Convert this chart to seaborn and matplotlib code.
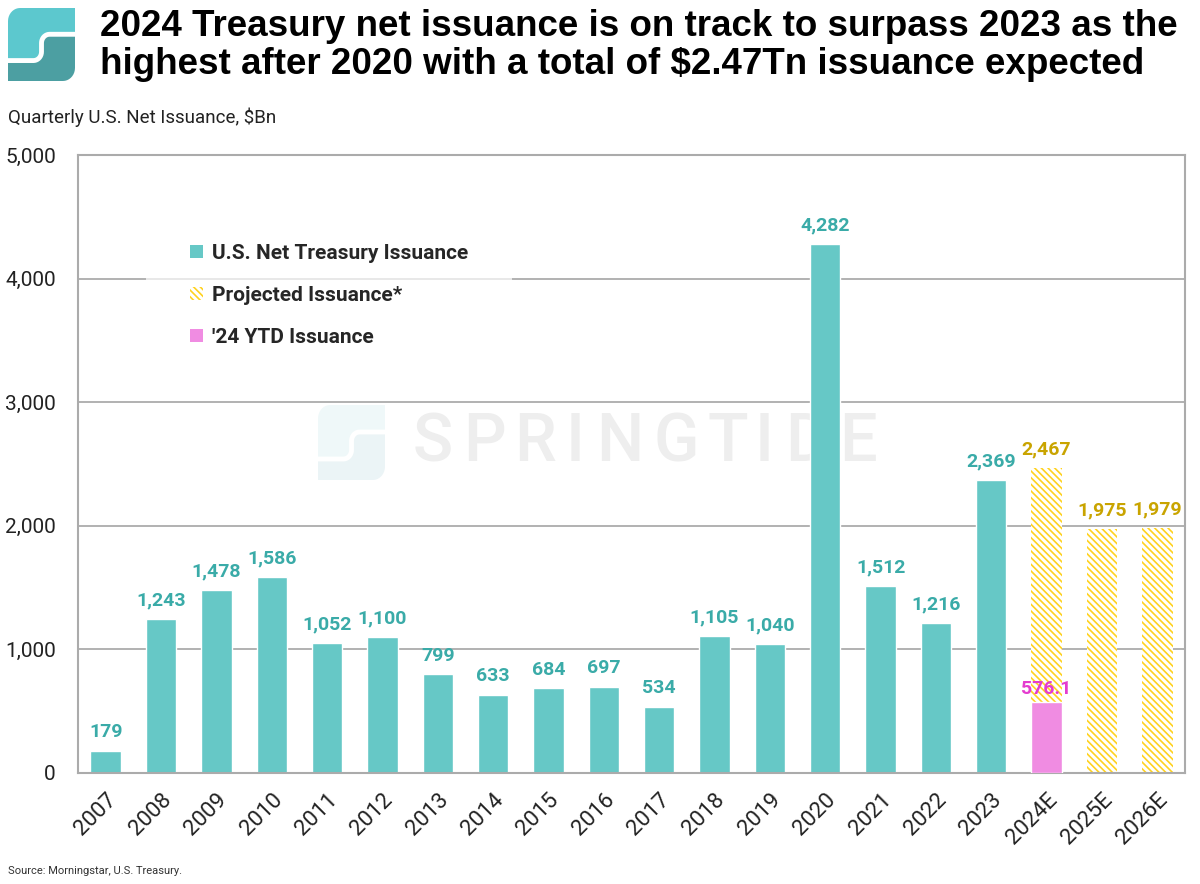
import numpy as np
import pandas as pd
import matplotlib
matplotlib.use("Agg")
import matplotlib.pyplot as plt
import seaborn as sns
from matplotlib import font_manager
from matplotlib.patches import Patch, Polygon
from matplotlib.lines import Line2D

# Дані
actual_years = ['2007', '2008', '2009', '2010', '2011', '2012', '2013', '2014', '2015',
                '2016', '2017', '2018', '2019', '2020', '2021', '2022', '2023']
actual_values = [179, 1243, 1478, 1586, 1052, 1100, 799, 633, 684,
                 697, 534, 1105, 1040, 4282, 1512, 1216, 2369]
projected_years = ['2024E', '2025E', '2026E']
projected_values = [2467, 1975, 1979]
ytd_years = ['2024E']
ytd_values = [576.1]
all_years = actual_years + projected_years

TEAL = '#66C8C6'
TEAL_TXT = '#3AABA8'
GOLD = '#FFD21F'
GOLD_TXT = '#C9A400'
PINK = '#F08CE2'
PINK_TXT = '#E43CCF'

sns.set_style('white')
names = {f.name for f in font_manager.fontManager.ttflist}
NARROW = 'Liberation Sans Narrow' if 'Liberation Sans Narrow' in names else 'Roboto'
plt.rcParams['font.family'] = [NARROW, 'DejaVu Sans']
plt.rcParams['hatch.linewidth'] = 1.2

fig = plt.figure(figsize=(12, 8.84), dpi=100)
ax = fig.add_axes([78 / 1200, 1 - 773 / 884, 1107 / 1200, 618 / 884])


def logo_patches(x0, y0, w, h, c1, c2, transform, gap_color='white', lw=3.5):
    # логотип: заокруглений квадрат, розділений S-подібною лінією
    r = 0.18

    def arc(cx, cy, rad, a0, a1, n=10):
        t = np.radians(np.linspace(a0, a1, n))
        return list(zip(cx + rad * np.cos(t), cy + rad * np.sin(t)))

    s_curve = ([(1, 0.64), (0.62, 0.64)] + arc(0.62, 0.52, 0.12, 90, 180)
               + [(0.50, 0.40)] + arc(0.38, 0.40, 0.12, 0, -90) + [(0, 0.28)])
    top = [(1, 1)] + arc(r, 1 - r, r, 90, 180) + [(0, 0.28)]
    light = top + s_curve[::-1]
    dark = s_curve + [(0, 0), (1 - r, 0)] + arc(1 - r, r, r, -90, 0)
    conv = lambda pts: [(x0 + x * w, y0 + y * h) for x, y in pts]
    p1 = Polygon(conv(light), closed=True, fc=c1, ec='none', transform=transform)
    p2 = Polygon(conv(dark), closed=True, fc=c2, ec='none', transform=transform)
    sc = np.array(conv(s_curve))
    ln = Line2D(sc[:, 0], sc[:, 1], color=gap_color, lw=lw, transform=transform,
                solid_capstyle='butt')
    return p1, p2, ln


# водяний знак
for art in logo_patches(318 / 1200, 1 - 480 / 884, 67 / 1200, 75 / 884,
                        '#EFF8F9', '#EBF4F6', fig.transFigure):
    art.set_zorder(0.3)
    if isinstance(art, Line2D):
        ax.add_line(art)
    else:
        ax.add_patch(art)
wm_centers = [433, 484, 535, 575, 620, 676, 728, 764, 807, 858]
for ch, cx in zip('SPRINGTIDE', wm_centers):
    ax.text(cx / 1200, 1 - 443 / 884, ch, transform=fig.transFigure,
            ha='center', va='center', fontsize=48, color='#EEEEEE',
            family='Roboto', fontweight='medium', zorder=0.3)

# стовпчики
sns.barplot(x=actual_years, y=actual_values, order=all_years, color=TEAL,
            saturation=1, width=0.55, ax=ax, zorder=2)
sns.barplot(x=projected_years, y=projected_values, order=all_years, color='white',
            saturation=1, width=0.55, ax=ax, zorder=2, hatch='\\\\\\\\\\',
            edgecolor=GOLD, linewidth=0)
sns.barplot(x=ytd_years, y=ytd_values, order=all_years, color=PINK,
            saturation=1, width=0.55, ax=ax, zorder=3)

conts = ax.containers
ax.bar_label(conts[0], labels=[f'{v:,.0f}' for v in actual_values], padding=7,
             fontsize=14, fontweight='bold', color=TEAL_TXT)
ax.bar_label(conts[1], labels=[f'{v:,.0f}' for v in projected_values], padding=7,
             fontsize=14, fontweight='bold', color=GOLD_TXT)
ax.bar_label(conts[2], labels=[f'{v:.1f}' for v in ytd_values], padding=3,
             fontsize=14, fontweight='bold', color=PINK_TXT, zorder=4)

ax.set_ylim(0, 5000)
ax.set_xlim(-0.5, len(all_years) - 0.5)
ax.set_yticks(range(0, 5001, 1000))
ax.set_yticklabels([f'{v:,}' for v in range(0, 5001, 1000)])
ax.set_xlabel('')
ax.set_ylabel('')
ax.grid(axis='y', color='#ABABAB', lw=1.3)
ax.set_axisbelow(True)
for s in ax.spines.values():
    s.set_visible(True)
    s.set_color('#ABABAB')
    s.set_linewidth(1.5)
ax.tick_params(axis='y', length=0, pad=16, labelsize=15, labelcolor='#222222')
ax.tick_params(axis='x', length=0, pad=12, labelsize=16, labelcolor='#222222')
for lbl in ax.get_xticklabels():
    lbl.set_rotation(45)
    lbl.set_ha('right')
    lbl.set_rotation_mode('anchor')

# легенда
handles = [Patch(facecolor=TEAL, edgecolor='none'),
           Patch(facecolor='white', edgecolor=GOLD, hatch='\\\\\\\\\\', lw=0),
           Patch(facecolor=PINK, edgecolor='none')]
leg = ax.legend(handles, ['U.S. Net Treasury Issuance', 'Projected Issuance*', "'24 YTD Issuance"],
                loc='upper left', bbox_to_anchor=(136 / 1200, 1 - 190 / 884),
                bbox_transform=fig.transFigure, frameon=True, framealpha=0.7,
                edgecolor='none', fancybox=False, borderpad=2.1,
                handlelength=0.6, handleheight=0.6, handletextpad=0.45,
                labelspacing=1.1, prop={'weight': 'bold', 'size': 15})
leg.set_zorder(5)

# заголовок і підписи
for art in logo_patches(8 / 1200, 1 - 81 / 884, 67 / 1200, 73 / 884,
                        '#5CC8CE', '#4C9FA2', fig.transFigure):
    fig.add_artist(art)
fig.text(100 / 1200, 1 - 9 / 884,
         '2024 Treasury net issuance is on track to surpass 2023 as the\n'
         'highest after 2020 with a total of $2.47Tn issuance expected',
         ha='left', va='top', fontsize=26.5, fontweight='bold',
         family='Liberation Sans', linespacing=1.1, color='black')
fig.text(8 / 1200, 1 - 117 / 884, 'Quarterly U.S. Net Issuance, $Bn',
         ha='left', va='center', fontsize=13.5, color='#222222')
fig.text(8 / 1200, 1 - 871 / 884, 'Source: Morningstar, U.S. Treasury.',
         ha='left', va='center', fontsize=8, color='#333333')

fig.savefig('out.png', dpi=100)
